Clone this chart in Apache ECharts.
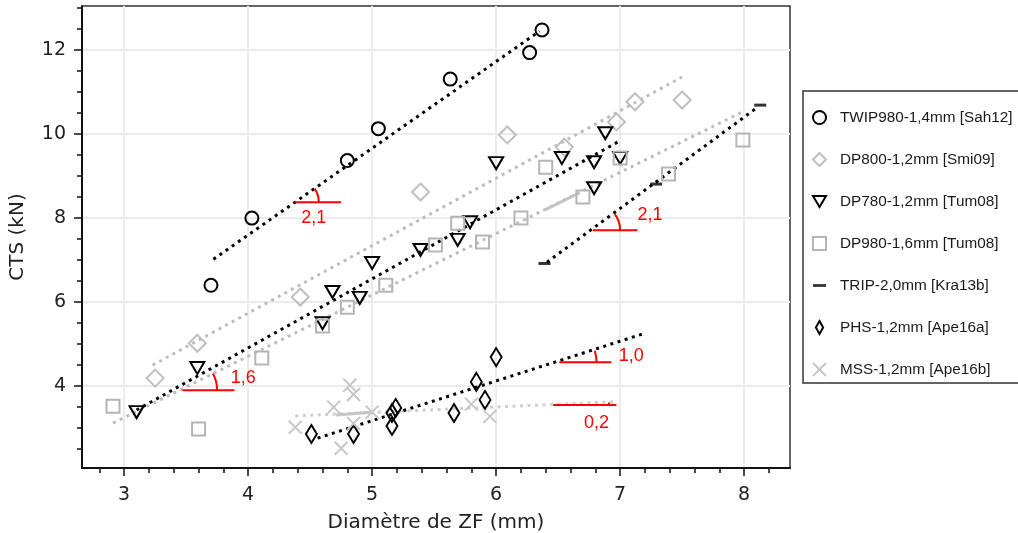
<!DOCTYPE html>
<html><head><meta charset="utf-8">
<script src="https://cdn.jsdelivr.net/npm/echarts@6/dist/echarts.min.js"></script>
<style>html,body{margin:0;padding:0;background:#fff}#c{width:1018px;height:533px}</style>
</head><body><div id="c"></div>
<script>
// ---- series names ----
const names = ['TWIP980-1,4mm [Sah12]','DP800-1,2mm [Smi09]','DP780-1,2mm [Tum08]','DP980-1,6mm [Tum08]','TRIP-2,0mm [Kra13b]','PHS-1,2mm [Ape16a]','MSS-1,2mm [Ape16b]'];
// ---- data points [diameter mm, CTS kN] ----
const twip980 = [[3.70,6.40],[4.03,8.00],[4.80,9.37],[5.05,10.13],[5.63,11.31],[6.27,11.94],[6.37,12.48]];
const dp800 = [[3.25,4.19],[3.59,5.02],[4.42,6.12],[5.39,8.62],[6.09,9.98],[6.55,9.69],[6.97,10.29],[7.12,10.77],[7.50,10.81]];
const dp780 = [[3.10,3.38],[3.59,4.43],[4.60,5.50],[4.68,6.24],[4.90,6.10],[5.00,6.93],[5.39,7.24],[5.69,7.48],[5.79,7.90],[6.00,9.31],[6.53,9.43],[6.79,9.33],[6.79,8.71],[6.88,10.02],[7.00,9.43]];
const dp980 = [[2.91,3.52],[3.60,2.98],[4.11,4.67],[4.60,5.43],[4.80,5.88],[5.11,6.40],[5.51,7.36],[5.69,7.88],[5.89,7.43],[6.20,8.00],[6.40,9.21],[6.70,8.50],[7.00,9.43],[7.39,9.05],[7.99,9.86]];
const trip = [[6.39,6.92],[7.29,8.81],[8.13,10.69]];
const phs = [[4.51,2.86],[4.85,2.86],[5.16,3.05],[5.16,3.36],[5.19,3.48],[5.66,3.36],[5.84,4.10],[5.91,3.67],[6.00,4.69]];
const mss = [[4.38,3.02],[4.69,3.50],[4.75,2.52],[4.82,4.02],[4.85,3.80],[4.85,3.11],[5.00,3.38],[5.80,3.57],[5.95,3.28]];
// ---- trend lines ----
const twipTrend = [[3.72,7.02],[6.35,12.45]];
const dp800Trend = [[3.23,4.50],[7.50,11.36]];
const dp780Trend = [[3.10,3.43],[6.98,9.81]];
const dp980Trend = [[2.91,3.12],[7.98,10.52]];
const tripTrend = [[6.41,6.95],[8.10,10.62]];
const phsTrend = [[4.56,2.76],[7.18,5.24]];
const mssTrend = [[4.38,3.29],[6.97,3.63]];
const graySeg1 = [[4.71,3.31],[4.99,3.38]];
const graySeg2 = [[6.39,8.19],[6.67,8.60]];
// ---- slope annotations ----
const annLabels = ['2,1','2,1','1,6','1,0','0,2'];
const annX0 = [4.38,6.78,3.47,6.51,6.46];
const annX1 = [4.75,7.14,3.89,6.93,6.97];
const annY = [8.38,7.71,3.90,4.57,3.55];
const annArcX = [4.57,7.00,3.75,6.81,6.91];
const annSlope = [2.06,2.17,1.62,0.95,0.13];
const annLabelX = [4.53,7.24,3.96,7.09,6.81];
const annLabelY = [8.00,8.07,4.20,4.71,3.12];
// ---- ticks ----
const xMajor = [3,4,5,6,7,8];
const xMinor = [2.8,3.2,3.4,3.6,3.8,4.2,4.4,4.6,4.8,5.2,5.4,5.6,5.8,6.2,6.4,6.6,6.8,7.2,7.4,7.6,7.8,8.2];
const yMajor = [4,6,8,10,12];
const yMinor = [2.5,3,3.5,4.5,5,5.5,6.5,7,7.5,8.5,9,9.5,10.5,11,11.5,12.5,13];

const X_MIN = 2.66, X_MAX = 8.37, Y_MIN = 2.05, Y_MAX = 13.05;
const tickFont = 'DejaVu Sans';
const hollow = 'rgba(0,0,0,0)';

function scatter(name, data, symbol, size, stroke, extra) {
  return Object.assign({
    name, type: 'scatter', data, symbol, symbolSize: size, z: 3,
    itemStyle: { color: hollow, borderColor: stroke, borderWidth: 2, opacity: 1 },
    emphasis: { disabled: true }
  }, extra || {});
}
function trend(data, color, dash) {
  return {
    type: 'line', data, showSymbol: false, symbol: 'none', silent: true, z: 2,
    lineStyle: { color, width: 3, type: dash || [3, 4.5] }
  };
}

const chart = echarts.init(document.getElementById('c'), null, { renderer: 'canvas' });
chart.setOption({
  animation: false,
  backgroundColor: '#fff',
  graphic: [{
    type: 'polyline', x: 0, y: 0, z: -1, silent: true,
    shape: { points: [[1100, 91], [803, 91], [803, 383], [1100, 383]] },
    style: { fill: null, stroke: '#333', lineWidth: 1.5 }
  }],
  grid: { left: 82, right: 228, top: 6, bottom: 65, outerBoundsMode: 'none', containLabel: false, show: true, borderColor: '#333', borderWidth: 1.5, backgroundColor: 'transparent' },
  xAxis: [{
    type: 'value', min: X_MIN, max: X_MAX, position: 'bottom',
    name: 'Diamètre de ZF (mm)', nameLocation: 'middle', nameGap: 45,
    nameTextStyle: { fontFamily: tickFont, fontSize: 20, color: '#222' },
    axisLine: { show: true, onZero: false, lineStyle: { color: '#111', width: 2 } },
    axisTick: { show: true, customValues: xMajor, length: 8, lineStyle: { color: '#111', width: 1.5 } },
    axisLabel: { customValues: xMajor, margin: 18, fontFamily: tickFont, fontSize: 19, color: '#222' },
    splitLine: { show: true, lineStyle: { color: '#ececec', width: 2 } }
  }, {
    type: 'value', min: X_MIN, max: X_MAX, position: 'bottom', gridIndex: 0,
    axisLine: { show: false },
    axisTick: { show: true, customValues: xMinor, length: 5, lineStyle: { color: '#111', width: 1.5 } },
    axisLabel: { show: false }, splitLine: { show: false }
  }],
  yAxis: [{
    type: 'value', min: Y_MIN, max: Y_MAX, position: 'left',
    name: 'CTS (kN)', nameLocation: 'middle', nameGap: 54,
    nameTextStyle: { fontFamily: tickFont, fontSize: 20, color: '#222' },
    axisLine: { show: true, onZero: false, lineStyle: { color: '#111', width: 2 } },
    axisTick: { show: true, customValues: yMajor, length: 8, lineStyle: { color: '#111', width: 1.5 } },
    axisLabel: { customValues: yMajor, margin: 16, fontFamily: tickFont, fontSize: 19, color: '#222' },
    splitLine: { show: true, lineStyle: { color: '#ececec', width: 2 } }
  }, {
    type: 'value', min: Y_MIN, max: Y_MAX, position: 'left', gridIndex: 0,
    axisLine: { show: false },
    axisTick: { show: true, customValues: yMinor, length: 5, lineStyle: { color: '#111', width: 1.5 } },
    axisLabel: { show: false }, splitLine: { show: false }
  }],
  legend: {
    data: names, orient: 'vertical', left: 805, top: 91,
    padding: [19, 10, 21, 7], itemWidth: 13, itemHeight: 13, itemGap: 27,
    borderWidth: 0, backgroundColor: 'transparent',
    selectedMode: false,
    textStyle: { fontFamily: 'Liberation Sans', fontSize: 15.3, color: '#1a1a1a', padding: [0, 0, 0, 9] }
  },
  series: [
    trend(twipTrend, '#000'),
    trend(dp800Trend, '#bdbdbd'),
    trend(dp780Trend, '#000'),
    trend(dp980Trend, '#bdbdbd'),
    trend(tripTrend, '#000'),
    trend(phsTrend, '#000'),
    trend(mssTrend, '#cfcfcf'),
    trend(graySeg1, '#c4c4c4', 'solid'),
    trend(graySeg2, '#c4c4c4', 'solid'),
    scatter(names[0], twip980, 'circle', 13, '#000'),
    scatter(names[1], dp800, 'diamond', 17, '#bfbfbf'),
    scatter(names[2], dp780, 'path://M0,0 L14,0 L7,12 Z', [14, 12], '#000'),
    scatter(names[3], dp980, 'rect', 13, '#b5b5b5'),
    scatter(names[4], trip, 'path://M0,0 L12,0 L12,2.6 L0,2.6 Z', [12, 3], '#000', { itemStyle: { color: '#000', borderColor: '#000', borderWidth: 0 } }),
    scatter(names[5], phs, 'path://M5,0 L10,9 L5,18 L0,9 Z', [11, 18], '#000'),
    scatter(names[6], mss, 'path://M0,0 L10,10 M10,0 L0,10', 13, '#c8c8c8'),
    {
      type: 'custom', silent: true, z: 5, clip: false,
      data: annY.map((y, i) => [annX0[i], y]),
      renderItem(params, api) {
        const i = params.dataIndex;
        const p0 = api.coord([annX0[i], annY[i]]);
        const p1 = api.coord([annX1[i], annY[i]]);
        const pa = api.coord([annArcX[i], annY[i]]);
        const ps = api.coord([annX0[i] + 1, annY[i] + annSlope[i]]);
        const ang = Math.atan2(ps[1] - p0[1], ps[0] - p0[0]);
        const r = pa[0] - p0[0];
        const pl = api.coord([annLabelX[i], annLabelY[i]]);
        return {
          type: 'group', children: [
            { type: 'line', shape: { x1: p0[0], y1: p0[1], x2: p1[0], y2: p1[1] }, style: { stroke: '#ff0000', lineWidth: 2 } },
            { type: 'arc', shape: { cx: p0[0], cy: p0[1], r: r, startAngle: ang, endAngle: 0, clockwise: true }, style: { stroke: '#ff0000', lineWidth: 2, fill: 'none' } },
            { type: 'text', x: pl[0], y: pl[1], style: { text: annLabels[i], fill: '#ff0000', font: '18px "Liberation Sans"', align: 'center', verticalAlign: 'middle' } }
          ]
        };
      }
    }
  ]
});
</script></body></html>
